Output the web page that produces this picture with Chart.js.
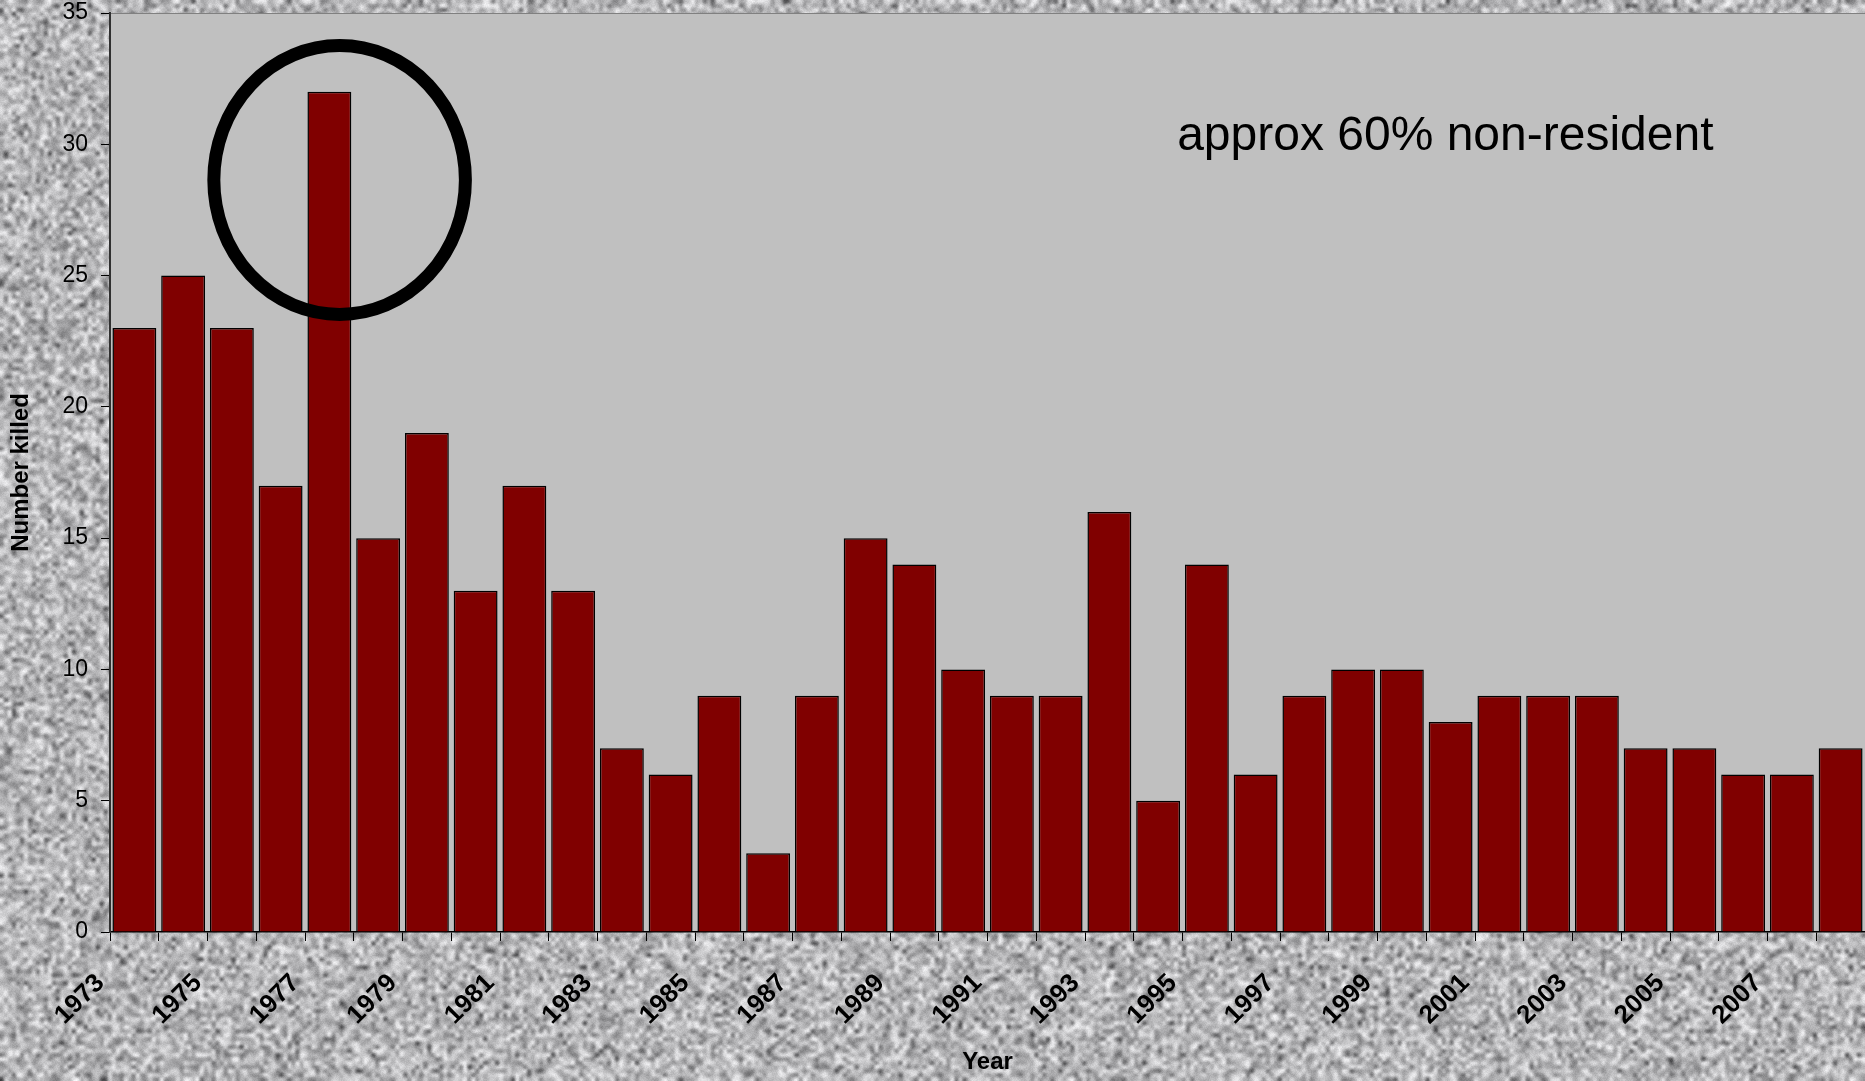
<!DOCTYPE html>
<html>
<head>
<meta charset="utf-8">
<title>Number killed by year</title>
<script src="https://cdn.jsdelivr.net/npm/chart.js@4/dist/chart.umd.min.js"></script>
<style>
  html, body { margin: 0; padding: 0; width: 1865px; height: 1081px; overflow: hidden; background: #b4b4b4; }
  #granite, #chart { position: absolute; left: 0; top: 0; }
</style>
</head>
<body>
<canvas id="granite" width="1865" height="1081"></canvas>
<canvas id="chart" width="1865" height="1081"></canvas>
<script>
// ---- data ----
const years = ['1973','1974','1975','1976','1977','1978','1979','1980','1981','1982',
               '1983','1984','1985','1986','1987','1988','1989','1990','1991','1992',
               '1993','1994','1995','1996','1997','1998','1999','2000','2001','2002',
               '2003','2004','2005','2006','2007','2008'];
const killed = [23, 25, 23, 17, 32, 15, 19, 13, 17, 13,
                 7,  6,  9,  3,  9, 15, 14, 10,  9,  9,
                16,  5, 14,  6,  9, 10, 10,  8,  9,  9,
                 9,  7,  7,  6,  6,  7];
const yMin = 0, yMax = 35, yStep = 5;
const yTitle = 'Number killed';
const xTitle = 'Year';
const noteText = 'approx 60% non-resident';
const highlightYear = '1977';

const FONT = "'Liberation Sans', Arial, Helvetica, sans-serif";

// ---- granite backdrop ----
function paintGranite(cv) {
  const ctx = cv.getContext('2d');
  const W = cv.width, H = cv.height;
  let seed = 918273645;
  const rnd = () => {
    seed = (seed + 0x6D2B79F5) | 0;
    let t = Math.imul(seed ^ (seed >>> 15), 1 | seed);
    t = (t + Math.imul(t ^ (t >>> 7), 61 | t)) ^ t;
    return ((t ^ (t >>> 14)) >>> 0) / 4294967296;
  };
  const cell = 4;
  const cw = Math.ceil(W / cell), ch = Math.ceil(H / cell);
  const tmp = document.createElement('canvas');
  tmp.width = cw; tmp.height = ch;
  const tctx = tmp.getContext('2d');
  const img = tctx.createImageData(cw, ch);
  for (let i = 0; i < cw * ch; i++) {
    let v = 184 + (rnd() + rnd() + rnd() - 1.5) * 60;
    if (rnd() < 0.08) v -= 60;
    v = Math.max(70, Math.min(238, v));
    img.data[i * 4] = v; img.data[i * 4 + 1] = v; img.data[i * 4 + 2] = v + 2; img.data[i * 4 + 3] = 255;
  }
  tctx.putImageData(img, 0, 0);
  ctx.imageSmoothingEnabled = true;
  ctx.imageSmoothingQuality = 'high';
  ctx.drawImage(tmp, 0, 0, W, H);
  const full = ctx.getImageData(0, 0, W, H);
  const d = full.data;
  for (let i = 0; i < W * H; i++) {
    const n = (rnd() - 0.5) * 16;
    d[i * 4] += n; d[i * 4 + 1] += n; d[i * 4 + 2] += n;
  }
  ctx.putImageData(full, 0, 0);
}
paintGranite(document.getElementById('granite'));

// ---- plot area fill and frame ----
const plotFrame = {
  id: 'plotFrame',
  beforeDraw(chart) {
    const { ctx, chartArea: a } = chart;
    ctx.save();
    ctx.fillStyle = '#c0c0c0';
    ctx.fillRect(a.left, a.top, a.right - a.left, a.bottom - a.top);
    ctx.strokeStyle = '#808080';
    ctx.lineWidth = 1;
    ctx.beginPath();
    ctx.moveTo(a.left - 9, a.top + 0.5);
    ctx.lineTo(a.right, a.top + 0.5);
    ctx.stroke();
    ctx.restore();
  }
};

// ---- ring around the peak year and the side note ----
const ringNote = {
  id: 'ringNote',
  afterDatasetsDraw(chart) {
    const { ctx, scales: { x, y } } = chart;
    const idx = years.indexOf(highlightYear);
    const step = x.getPixelForValue(1) - x.getPixelForValue(0);
    const unit = y.getPixelForValue(0) - y.getPixelForValue(1);
    const cx = x.getPixelForValue(idx) + 0.21 * step;
    const cy = y.getPixelForValue(28.64);
    ctx.save();
    ctx.strokeStyle = '#000';
    ctx.lineWidth = 13;
    ctx.beginPath();
    ctx.ellipse(cx, cy, 2.58 * step, 5.12 * unit, 0, 0, Math.PI * 2);
    ctx.stroke();

    ctx.fillStyle = '#000';
    ctx.font = `48px ${FONT}`;
    ctx.textAlign = 'left';
    ctx.textBaseline = 'alphabetic';
    ctx.fillText(noteText, x.getPixelForValue(21.39), y.getPixelForValue(29.8));
    ctx.restore();
  }
};

new Chart(document.getElementById('chart'), {
  type: 'bar',
  data: {
    labels: years,
    datasets: [{
      label: yTitle,
      data: killed,
      backgroundColor: '#800000',
      borderColor: '#000000',
      borderWidth: 1.5,
      barPercentage: 0.9,
      categoryPercentage: 1.0
    }]
  },
  options: {
    responsive: false,
    devicePixelRatio: 1,
    animation: false,
    layout: { padding: { top: 13, left: 0, right: 0, bottom: 0 } },
    plugins: {
      legend: { display: false },
      tooltip: { enabled: false }
    },
    scales: {
      x: {
        offset: true,
        grid: {
          display: true, drawOnChartArea: false, offset: true,
          tickLength: 9, tickColor: '#000', tickWidth: 1
        },
        border: { display: true, color: '#000', width: 1.5 },
        ticks: {
          autoSkip: false, minRotation: 45, maxRotation: 45,
          labelOffset: -34, padding: 27,
          color: '#000',
          font: { family: FONT, size: 26, weight: 'bold' },
          callback: (v, i) => (i % 2 === 0 ? years[i] : '')
        },
        title: {
          display: true, text: xTitle, color: '#000',
          font: { family: FONT, size: 24, weight: 'bold' },
          padding: { top: 0, bottom: 4 }
        },
        afterFit(scale) {
          scale.height = 149;
          scale.paddingLeft = 0; scale.paddingRight = 0;
          scale.paddingTop = 0; scale.paddingBottom = 0;
        }
      },
      y: {
        min: yMin, max: yMax,
        grid: { display: true, drawOnChartArea: false, tickLength: 9, tickColor: '#000' },
        border: { display: true, color: '#303030', width: 2 },
        ticks: {
          stepSize: yStep, padding: 13, color: '#000',
          font: { family: FONT, size: 23 }
        },
        title: {
          display: true, text: yTitle, color: '#000',
          font: { family: FONT, size: 24, weight: 'bold' },
          padding: { top: 7, bottom: 0 }
        },
        afterFit(scale) {
          scale.width = 110;
          scale.paddingLeft = 0; scale.paddingRight = 0;
          scale.paddingTop = 0; scale.paddingBottom = 0;
        }
      }
    }
  },
  plugins: [plotFrame, ringNote]
});
</script>
</body>
</html>
